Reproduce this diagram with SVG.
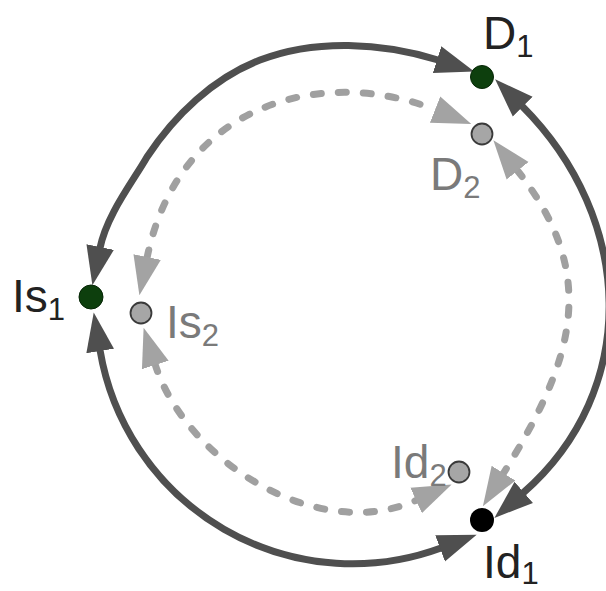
<svg xmlns="http://www.w3.org/2000/svg" width="606" height="591" viewBox="0 0 606 591">
<style>
.solid{fill:none;stroke:#4f4f4f;stroke-width:7;marker-start:url(#ad);marker-end:url(#ad)}
.dash{fill:none;stroke:#a0a0a0;stroke-width:7;stroke-linecap:round;stroke-dasharray:8 17;marker-start:url(#al);marker-end:url(#al)}
.g1{fill:#0d3f0d;stroke:#062606;stroke-width:1}
.g2{fill:#a6a6a6;stroke:#3a3a3a;stroke-width:1.8}
.bk{fill:#000}
.lbl{font-family:"Liberation Sans",Arial,sans-serif;font-size:46px}
.dk{fill:#222}
.lt{fill:#7a7a7a}
.sub{font-size:31px}
</style>
<defs>
<marker id="ad" markerUnits="userSpaceOnUse" markerWidth="42" markerHeight="32" viewBox="-1 -16 42 32" refX="0" refY="0" orient="auto-start-reverse"><path d="M-1,-14 L38,0 L-1,14 Z" fill="#4f4f4f"/></marker>
<marker id="al" markerUnits="userSpaceOnUse" markerWidth="42" markerHeight="32" viewBox="-1 -16 42 32" refX="0" refY="0" orient="auto-start-reverse"><path d="M-1,-14 L38,0 L-1,14 Z" fill="#a3a3a3"/></marker>
</defs>
<g id="connectors">
<path class="solid" d="M100,248 C106.8,214.7 132,183 147,157 C174.5,115.2 213.5,78 260,60 C314.9,38.8 381.9,42.3 438,60"/>
<path class="solid" d="M522,106 C635,219 641,390 523,493"/>
<path class="solid" d="M100,350 A256,256 0 0 0 441,548"/>
<path class="dash" d="M147,258 C179,101.2 324.4,65.6 436,110"/>
<path class="dash" d="M517,170 C600.4,274.9 574.3,359.7 503,474"/>
<path class="dash" d="M155,364 C185,459.5 316.9,545.1 417,500"/>
</g>
<g id="D1"><circle class="g1" cx="482" cy="77" r="11.5"/><text class="lbl dk" x="483" y="49">D<tspan class="sub" dy="8">1</tspan></text></g>
<g id="D2"><circle class="g2" cx="482" cy="134" r="10.5"/><text class="lbl lt" x="430" y="190">D<tspan class="sub" dy="8">2</tspan></text></g>
<g id="Is1"><circle class="g1" cx="91" cy="297" r="12"/><text class="lbl dk" x="12" y="312">Is<tspan class="sub" dy="8">1</tspan></text></g>
<g id="Is2"><circle class="g2" cx="141" cy="313" r="10.5"/><text class="lbl lt" x="166" y="338">Is<tspan class="sub" dy="8">2</tspan></text></g>
<g id="Id2"><circle class="g2" cx="459" cy="472" r="10.5"/><text class="lbl lt" x="391" y="478">Id<tspan class="sub" dy="8">2</tspan></text></g>
<g id="Id1"><circle class="bk" cx="482" cy="520" r="12"/><text class="lbl dk" x="483" y="578">Id<tspan class="sub" dy="6">1</tspan></text></g>
</svg>
